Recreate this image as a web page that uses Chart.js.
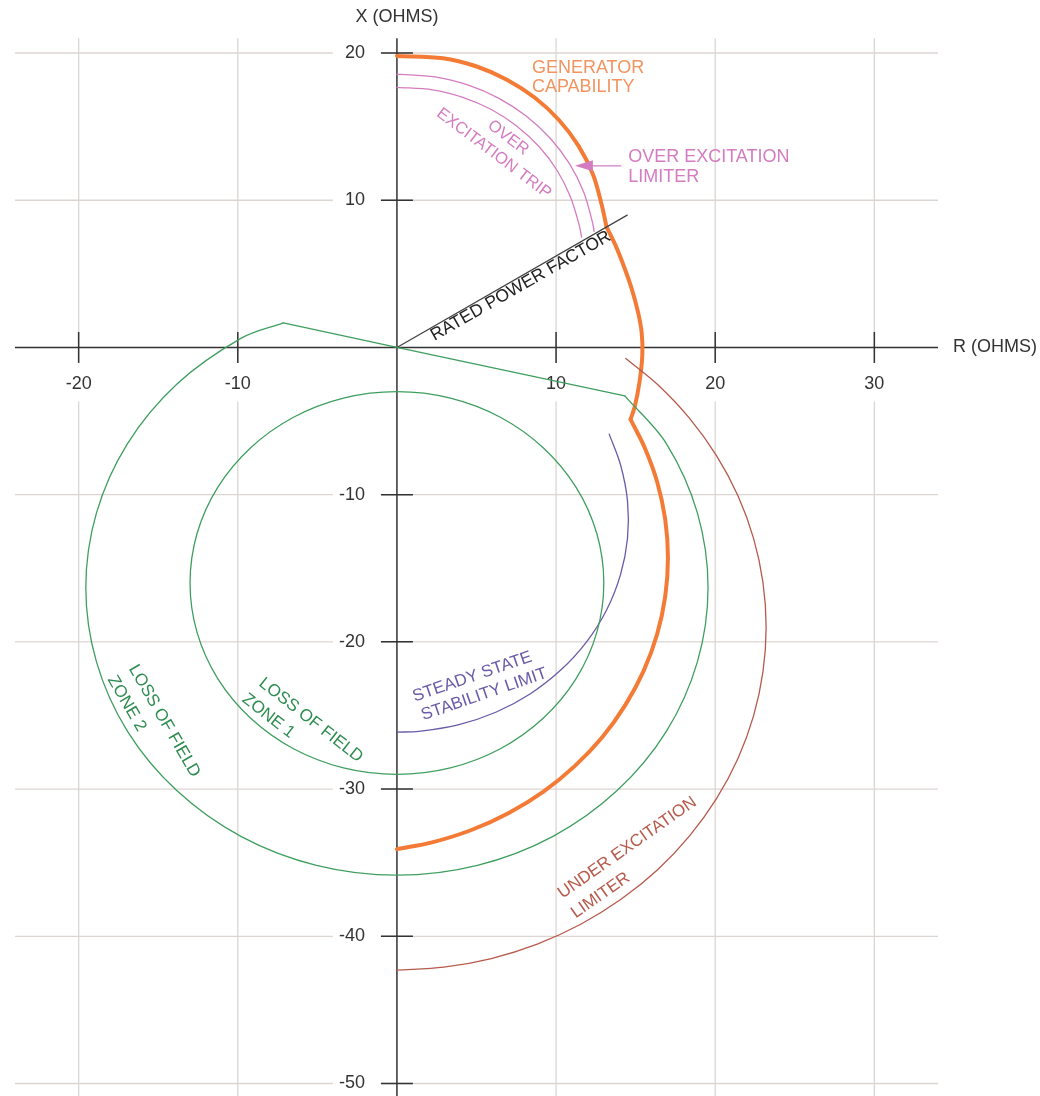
<!DOCTYPE html>
<html>
<head>
<meta charset="utf-8">
<title>Generator R-X Diagram</title>
<script src="https://cdn.jsdelivr.net/npm/chart.js@4.4.1/dist/chart.umd.min.js"></script>
<style>
  html, body { margin: 0; padding: 0; background: #fff; }
  #wrap { width: 1040px; height: 1096px; }
</style>
</head>
<body>
<div id="wrap"><canvas id="rx"></canvas></div>
<script>
// Axis ticks (ohms)
const rTicks = [-20, -10, 10, 20, 30];
const xTicks = [20, 10, -10, -20, -30, -40, -50];

// Curves as [R, X] pairs
const genCapTop = [[0, 19.8], [2.9, 19.65], [4.97, 19.1], [6.91, 18.19], [8.67, 16.96], [10.18, 15.45],
    [11.41, 13.69], [12.32, 11.75], [12.87, 9.68], [13.17, 8.19]];
const genCapMid = [[13.17, 8.19], [13.75, 6.9], [14.3, 5.4], [14.75, 4.0], [15.15, 2.4], [15.38, 1.0],
    [15.42, -0.5], [15.25, -2.3], [14.95, -4.0], [14.68, -4.89]];
const genCapLow = [[14.68, -4.89], [15.57, -6.81], [16.35, -9.12], [16.86, -11.69], [17.03, -14.3],
    [16.86, -16.91], [16.35, -19.48], [15.51, -21.95], [14.35, -24.3], [12.9, -26.48], [11.17, -28.44],
    [9.21, -30.17], [7.03, -31.62], [4.68, -32.78], [2.21, -33.62], [0, -34.08]];

const oeLimiter = [[0, 18.57], [2.4, 18.38], [4.45, 17.83], [6.38, 16.94], [8.12, 15.72], [9.63, 14.21],
    [10.85, 12.47], [11.74, 10.54], [12.29, 8.49], [12.39, 7.88]];
const oeTrip = [[0, 17.67], [2.24, 17.5], [4.14, 16.99], [5.93, 16.16], [7.54, 15.03], [8.94, 13.63],
    [10.07, 12.02], [10.9, 10.23], [11.45, 8.33], [11.6, 7.5]];
const oeArrow = [[14.07, 12.34], [12.1, 12.34]];

const ratedPF = [[0, 0], [14.47, 8.99]];

const lofDirectional = [[-7.14, 1.67], [0, 0], [14.32, -3.29]];
const lofZone2 = [[-7.14, 1.67], [-9.78, 0.63], [-13.82, -2.48], [-16.93, -6.53], [-18.88, -11.24],
    [-19.55, -16.3], [-18.88, -21.36], [-16.93, -26.08], [-13.82, -30.12], [-9.78, -33.23], [-5.06, -35.18],
    [0, -35.85], [5.06, -35.18], [9.78, -33.23], [13.82, -30.12], [16.93, -26.08], [18.88, -21.36],
    [19.55, -16.3], [18.88, -11.24], [16.93, -6.53], [14.32, -3.29]];
// closed circle (drawn as a loop)
const lofZone1 = [[13, -16], [12.56, -12.64], [11.26, -9.5], [9.19, -6.81], [6.5, -4.74],
    [3.36, -3.44], [0, -3], [-3.36, -3.44], [-6.5, -4.74], [-9.19, -6.81], [-11.26, -9.5], [-12.56, -12.64],
    [-13, -16], [-12.56, -19.36], [-11.26, -22.5], [-9.19, -25.19], [-6.5, -27.26], [-3.36, -28.56],
    [0, -29], [3.36, -28.56], [6.5, -27.26], [9.19, -25.19], [11.26, -22.5], [12.56, -19.36]];

const ssLimit = [[13.34, -5.89], [14.05, -7.97], [14.49, -10.44], [14.49, -12.96], [14.05, -15.43],
    [13.19, -17.8], [11.93, -19.98], [10.31, -21.9], [8.39, -23.52], [6.21, -24.78], [3.84, -25.64],
    [1.37, -26.08], [0, -26.13]];

const ueLimiter = [[14.38, -0.75], [16.38, -2.52], [18.39, -4.82], [20.08, -7.35], [21.43, -10.08],
    [22.41, -12.97], [23.0, -15.96], [23.2, -19], [23.0, -22.04], [22.41, -25.03], [21.43, -27.92],
    [20.08, -30.65], [18.39, -33.18], [16.38, -35.48], [14.08, -37.49], [11.55, -39.18], [8.82, -40.53],
    [5.93, -41.51], [2.94, -42.1], [0, -42.3]];

// Colours
const colors = {
    orange: '#f47b36',
    orangeText: '#f29460',
    pink: '#d47cc0',
    green: '#3f9e5f',
    greenText: '#2e8c50',
    purple: '#6a5aa8',
    brown: '#b65a4c',
    grid: '#dcd6d2',
    axis: '#333333'
};
const FONT = '"Liberation Sans", Arial, sans-serif';

// Text labels: [text, R, X, angle (deg), colour, size, align]
const notes = [
    ['GENERATOR', 8.48, 18.96, 0, colors.orangeText, 18, 'left'],
    ['CAPABILITY', 8.48, 17.67, 0, colors.orangeText, 18, 'left'],
    ['OVER EXCITATION', 14.53, 12.91, 0, colors.pink, 18, 'left'],
    ['LIMITER', 14.53, 11.59, 0, colors.pink, 18, 'left'],
    ['OVER', 6.99, 14.24, 37, colors.pink, 16.5, 'center'],
    ['EXCITATION TRIP', 6.09, 13.18, 37, colors.pink, 16.5, 'center'],
    ['RATED POWER FACTOR', 7.79, 4.17, -29.8, '#222222', 17.5, 'center'],
    ['LOSS OF FIELD', -14.62, -25.38, 60, colors.greenText, 17, 'center'],
    ['ZONE 2', -16.98, -24.19, 60, colors.greenText, 17, 'center'],
    ['LOSS OF FIELD', -5.41, -25.32, 38, colors.greenText, 17, 'center'],
    ['ZONE 1', -8.08, -25.04, 38, colors.greenText, 17, 'center'],
    ['STEADY STATE', 4.74, -22.38, -19, colors.purple, 17, 'center'],
    ['STABILITY LIMIT', 5.48, -23.57, -19, colors.purple, 17, 'center'],
    ['UNDER EXCITATION', 14.48, -33.99, -35, colors.brown, 17, 'center'],
    ['LIMITER', 12.8, -37.22, -35, colors.brown, 17, 'center']
];

function toPoints(arr) {
    return arr.map(p => ({ x: p[0], y: p[1] }));
}

function curve(arr, color, width, tension) {
    return {
        data: toPoints(arr),
        showLine: true,
        borderColor: color,
        borderWidth: width,
        pointRadius: 0,
        tension: tension,
        fill: false,
        borderCapStyle: 'round',
        borderJoinStyle: 'round'
    };
}

function seg(ctx, x1, y1, x2, y2) {
    ctx.beginPath();
    ctx.moveTo(x1, y1);
    ctx.lineTo(x2, y2);
    ctx.stroke();
}

// Let a dataset flagged "closed" be drawn as a smooth loop (like radar lines)
const loopPlugin = {
    id: 'closedLoop',
    afterDatasetUpdate(chart, args) {
        const ds = chart.data.datasets[args.index];
        if (ds.closed && args.meta.dataset) {
            args.meta.dataset._loop = true;
            args.meta.dataset._fullLoop = true;
        }
    }
};

// Gridlines, axes through origin, ticks and tick labels
const axesPlugin = {
    id: 'rxAxes',
    beforeDatasetsDraw(chart) {
        const ctx = chart.ctx;
        const a = chart.chartArea;
        const xs = chart.scales.x, ys = chart.scales.y;
        const x0 = xs.getPixelForValue(0), y0 = ys.getPixelForValue(0);
        ctx.save();
        ctx.strokeStyle = colors.grid;
        ctx.lineWidth = 1.3;
        rTicks.forEach(v => {
            const px = xs.getPixelForValue(v);
            seg(ctx, px, a.top, px, y0 + 15);
            seg(ctx, px, y0 + 54, px, a.bottom);
        });
        xTicks.forEach(v => {
            const py = ys.getPixelForValue(v);
            seg(ctx, a.left, py, x0 - 64, py);
            seg(ctx, x0 - 16, py, a.right, py);
        });

        ctx.strokeStyle = colors.axis;
        ctx.lineWidth = 1.5;
        seg(ctx, a.left, y0, a.right, y0);
        seg(ctx, x0, a.top, x0, a.bottom);
        rTicks.forEach(v => {
            const px = xs.getPixelForValue(v);
            seg(ctx, px, y0 - 15.5, px, y0 + 15.5);
        });
        xTicks.forEach(v => {
            const py = ys.getPixelForValue(v);
            seg(ctx, x0 - 16, py, x0 + 16, py);
        });

        ctx.fillStyle = colors.axis;
        ctx.font = '18px ' + FONT;
        ctx.textBaseline = 'middle';
        ctx.textAlign = 'center';
        rTicks.forEach(v => ctx.fillText(String(v), xs.getPixelForValue(v), y0 + 37));
        ctx.textAlign = 'right';
        xTicks.forEach(v => ctx.fillText(String(v), x0 - 32, ys.getPixelForValue(v)));

        ctx.textAlign = 'center';
        ctx.fillText('X (OHMS)', x0, 17);
        ctx.textAlign = 'left';
        ctx.fillText('R (OHMS)', a.right + 15, y0);
        ctx.restore();
    },
    afterDatasetsDraw(chart) {
        const ctx = chart.ctx;
        const xs = chart.scales.x, ys = chart.scales.y;
        ctx.save();
        // arrow head of the over excitation limiter pointer
        const tipX = xs.getPixelForValue(11.18), tipY = ys.getPixelForValue(12.34);
        ctx.fillStyle = colors.pink;
        ctx.beginPath();
        ctx.moveTo(tipX, tipY);
        ctx.lineTo(tipX + 18, tipY - 5.5);
        ctx.lineTo(tipX + 18, tipY + 5.5);
        ctx.closePath();
        ctx.fill();

        ctx.textBaseline = 'middle';
        notes.forEach(n => {
            ctx.save();
            ctx.translate(xs.getPixelForValue(n[1]), ys.getPixelForValue(n[2]));
            ctx.rotate(n[3] * Math.PI / 180);
            ctx.font = n[5] + 'px ' + FONT;
            ctx.fillStyle = n[4];
            ctx.textAlign = n[6];
            ctx.fillText(n[0], 0, 0);
            ctx.restore();
        });
        ctx.restore();
    }
};

const T = 0.33;
const zone1 = curve(lofZone1, colors.green, 1.3, T);
zone1.closed = true;
zone1.spanGaps = true;

new Chart(document.getElementById('rx'), {
    type: 'scatter',
    data: {
        datasets: [
            zone1,
            curve(lofZone2, colors.green, 1.3, T),
            curve(lofDirectional, colors.green, 1.3, 0),
            curve(ssLimit, colors.purple, 1.3, T),
            curve(ueLimiter, colors.brown, 1.3, T),
            curve(ratedPF, '#444444', 1.3, 0),
            curve(oeTrip, colors.pink, 1.3, T),
            curve(oeLimiter, colors.pink, 1.3, T),
            curve(oeArrow, colors.pink, 1.3, 0),
            curve(genCapTop, colors.orange, 4, T),
            curve(genCapMid, colors.orange, 4, T),
            curve(genCapLow, colors.orange, 4, T)
        ]
    },
    options: {
        responsive: true,
        maintainAspectRatio: false,
        animation: false,
        events: [],
        layout: {
            padding: { left: 15, right: 102, top: 38.3, bottom: 0 }
        },
        plugins: {
            legend: { display: false },
            tooltip: { enabled: false }
        },
        scales: {
            x: { type: 'linear', min: -24, max: 34, display: false },
            y: { type: 'linear', min: -50.85, max: 21, display: false }
        }
    },
    plugins: [loopPlugin, axesPlugin]
});
</script>
</body>
</html>
